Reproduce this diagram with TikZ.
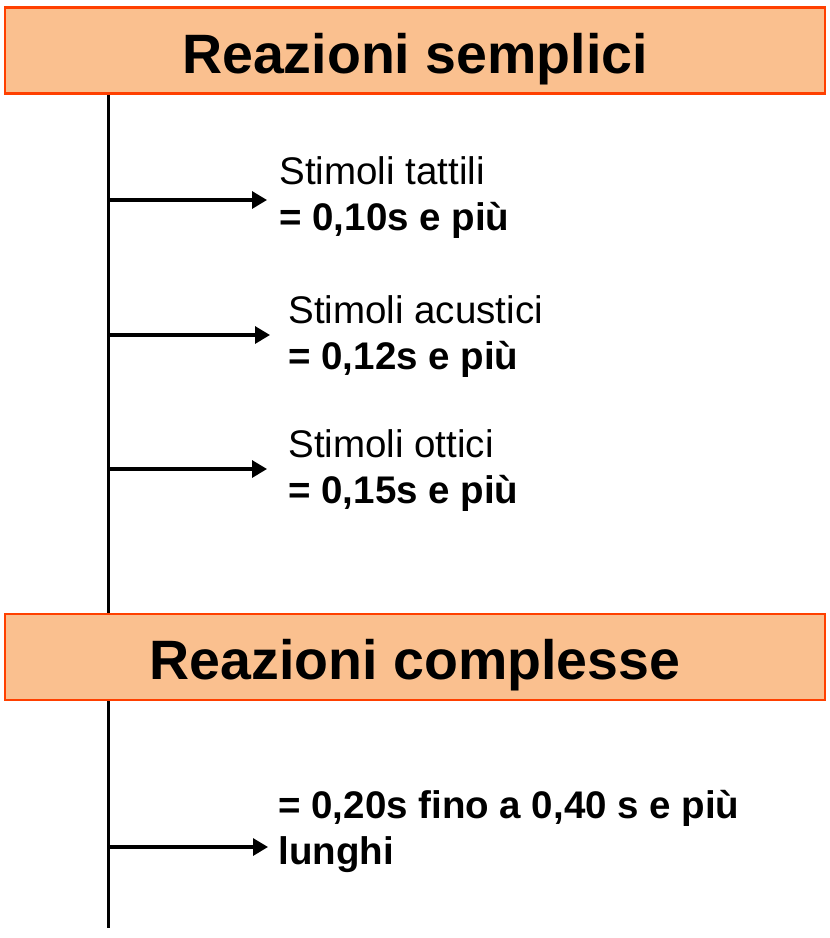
\documentclass[tikz,border=0pt]{standalone}
\usepackage{fontspec}
\setmainfont{Liberation Sans}
\usetikzlibrary{arrows.meta}
\definecolor{boxfill}{RGB}{250,192,143}
\definecolor{boxline}{RGB}{255,64,0}

\begin{document}
\begin{tikzpicture}[x=0.5pt, y=-0.5pt,
  titlebox/.style={draw=boxline, line width=1.1pt, fill=boxfill,
    minimum width=410pt, minimum height=43pt, inner sep=0pt,
    text height=24pt, text depth=1.5pt,
    font=\fontsize{27.75}{33}\selectfont\bfseries},
  spine/.style={line width=1.6pt},
  arr/.style={line width=1.6pt, -{Triangle[length=7.5pt, width=8.5pt]}},
  lbl/.style={anchor=base west, align=left, inner sep=0pt,
    font=\fontsize{19.25}{23}\selectfont}]
\newcommand{\Spx}{108.5} % x of the vertical line

\useasboundingbox (0,0) rectangle (830,938);

% title boxes
\node[titlebox] (semplici)  at (415,50.5) {Reazioni semplici};
\node[titlebox] (complesse) at (415,657)  {Reazioni complesse};

% vertical line
\coordinate (S)   at (\Spx,0);
\coordinate (End) at (\Spx,928);
\draw[spine] (semplici.south -| S) -- (complesse.north -| S);
\draw[spine] (complesse.south -| S) -- (End);

% labels (anchored on the baseline of the last line)
\node[lbl] (tattili)  at (279,230) {Stimoli tattili\\\textbf{= 0,10s e più}};
\node[lbl] (acustici) at (288,369) {Stimoli acustici\\\textbf{= 0,12s e più}};
\node[lbl] (ottici)   at (288,503) {Stimoli ottici\\\textbf{= 0,15s e più}};
\node[lbl, font=\fontsize{19.25}{23}\selectfont\bfseries] (lunghi) at (278,864) {= 0,20s fino a 0,40 s e più\\lunghi};

% arrows
\coordinate (r1) at (\Spx,200); \coordinate (e1) at (267,200);
\coordinate (r2) at (\Spx,335); \coordinate (e2) at (270,335);
\coordinate (r3) at (\Spx,469); \coordinate (e3) at (267,469);
\coordinate (r4) at (\Spx,847); \coordinate (e4) at (268,847);
\draw[arr] (r1) -- (e1);
\draw[arr] (r2) -- (e2);
\draw[arr] (r3) -- (e3);
\draw[arr] (r4) -- (e4);
\end{tikzpicture}
\end{document}
